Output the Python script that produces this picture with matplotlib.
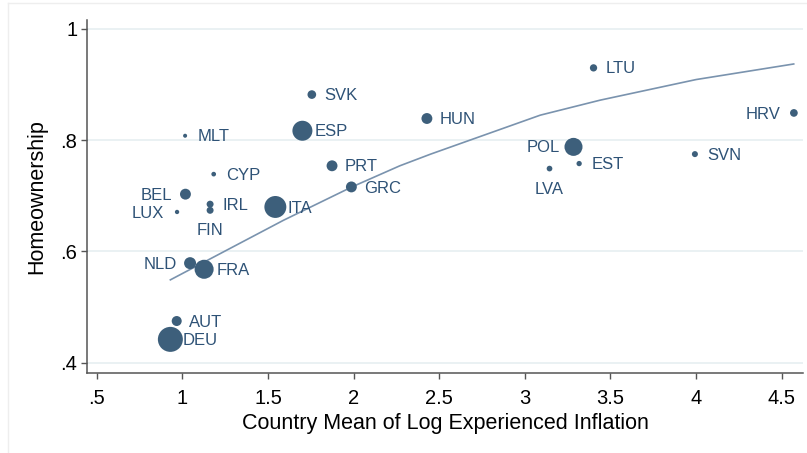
import matplotlib.pyplot as plt
from matplotlib.lines import Line2D

plt.rcParams["font.family"] = ["Liberation Sans", "DejaVu Sans"]

# country data: mean log experienced inflation, homeownership rate, weight
country = ["DEU", "AUT", "NLD", "FRA", "LUX", "BEL", "MLT", "IRL", "FIN", "CYP",
           "ITA", "ESP", "SVK", "PRT", "GRC", "HUN", "LVA", "POL", "EST", "LTU",
           "SVN", "HRV"]
log_infl = [0.930, 0.967, 1.045, 1.127, 0.969, 1.018, 1.016, 1.162, 1.162, 1.183,
            1.543, 1.701, 1.756, 1.874, 1.987, 2.428, 3.144, 3.284, 3.317, 3.401,
            3.993, 4.571]
homeown = [0.442, 0.475, 0.579, 0.568, 0.671, 0.703, 0.808, 0.685, 0.674, 0.739,
           0.680, 0.817, 0.882, 0.754, 0.716, 0.839, 0.749, 0.788, 0.758, 0.930,
           0.775, 0.849]
weight = [100, 16, 23, 58, 3, 19, 2.6, 7.8, 7.8, 3.5,
          77, 64, 12, 19, 19, 19, 5.2, 52, 4.5, 8.5,
          5.8, 9.5]

# fitted curve
fit_x = [0.93, 1.59, 1.99, 2.27, 2.45, 3.09, 3.44, 4.00, 4.57]
fit_y = [0.549, 0.656, 0.716, 0.754, 0.775, 0.845, 0.872, 0.909, 0.937]

xticks = [0.5, 1, 1.5, 2, 2.5, 3, 3.5, 4, 4.5]
xticklabels = [".5", "1", "1.5", "2", "2.5", "3", "3.5", "4", "4.5"]
yticks = [0.4, 0.6, 0.8, 1.0]
yticklabels = [".4", ".6", ".8", "1"]

# label placement (default: right of marker)
LEFT = {"BEL", "LUX", "NLD", "POL", "HRV"}
BELOW = {"FIN", "LVA"}

DOT = "#3d5f7b"
TXT = "#2e5276"

fig = plt.figure(figsize=(8.07, 4.53), dpi=100)
ax = fig.add_axes([0.1082, 0.1759, 0.8868, 0.7799])

for yt in yticks:
    ax.axhline(yt, color="#e6eff1", lw=1.2, zorder=0)

ax.scatter(log_infl, homeown, s=[w * 3.24 for w in weight], color=DOT,
           edgecolors="none", zorder=3)
ax.plot(fit_x, fit_y, color="#7a93ae", lw=1.2, zorder=2)

for name, xv, yv in zip(country, log_infl, homeown):
    if name in LEFT:
        off, ha, va = (-9.5, -0.8), "right", "center"
    elif name in BELOW:
        off, ha, va = (0, -9.5), "center", "top"
    else:
        off, ha, va = (9, -0.8), "left", "center"
    ax.annotate(name, (xv, yv), xytext=off, textcoords="offset points",
                ha=ha, va=va, fontsize=12, color=TXT, zorder=4)

ax.set_xlim(0.445, 4.624)
ax.set_ylim(0.381, 1.016)
ax.set_xticks(xticks)
ax.set_xticklabels(xticklabels)
ax.set_yticks(yticks)
ax.set_yticklabels(yticklabels)
ax.tick_params(axis="both", labelsize=14.5, length=4.3, width=1,
               color="#555555")
ax.tick_params(axis="x", pad=7)
ax.tick_params(axis="y", pad=3)

for side in ("top", "right"):
    ax.spines[side].set_visible(False)
for side in ("left", "bottom"):
    ax.spines[side].set_color("#555555")
    ax.spines[side].set_linewidth(1.1)

ax.set_xlabel("Country Mean of Log Experienced Inflation", fontsize=15.5)
ax.set_ylabel("Homeownership", fontsize=15.5)
ax.xaxis.set_label_coords(0.4998, -0.1115)
ax.yaxis.set_label_coords(-0.0563, 0.5)

# faint outer frame (top and left edges)
fig.add_artist(Line2D([8 / 807, 1], [1 - 3 / 453, 1 - 3 / 453],
                      transform=fig.transFigure, color="#eeeeee", lw=1))
fig.add_artist(Line2D([8 / 807, 8 / 807], [0, 1 - 3 / 453],
                      transform=fig.transFigure, color="#eeeeee", lw=1))

fig.savefig("out.png", dpi=100)
